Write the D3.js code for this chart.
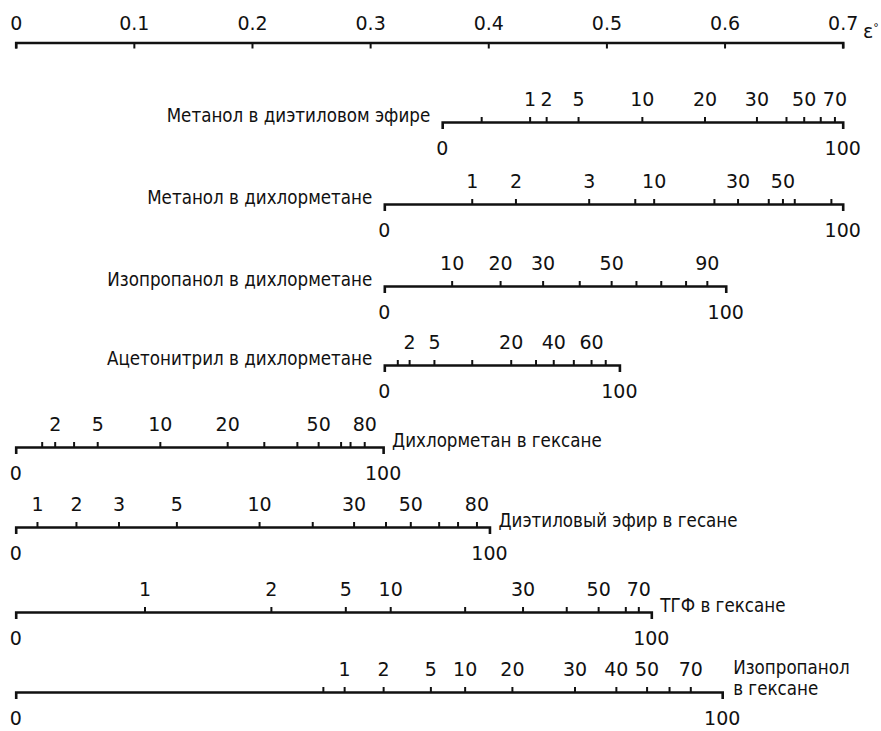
<!DOCTYPE html>
<html>
<head>
<meta charset="utf-8">
<script src="https://cdn.jsdelivr.net/npm/d3@7"></script>
<style>
  html, body { margin: 0; padding: 0; background: #fff; }
  svg { display: block; }
  .num { font-family: "DejaVu Sans", sans-serif; font-size: 19px; fill: #111; }
  .name { font-family: "DejaVu Sans Condensed", "DejaVu Sans", sans-serif; font-size: 18.6px; fill: #111; }
</style>
</head>
<body>
<svg id="chart" width="881" height="731"></svg>
<script>
// Eluent strength scale ε° (top reference axis)
const epsTicks = [0, 0.1, 0.2, 0.3, 0.4, 0.5, 0.6, 0.7];
const epsTickLabels = ["0", "0.1", "0.2", "0.3", "0.4", "0.5", "0.6", "0.7"];

// Binary mixtures: name, ε° of the pure weak (0 %) and pure strong (100 %) component
const mixNames = [
  "Метанол в диэтиловом эфире",
  "Метанол в дихлорметане",
  "Изопропанол в дихлорметане",
  "Ацетонитрил в дихлорметане",
  "Дихлорметан в гексане",
  "Диэтиловый эфир в гесане",
  "ТГФ в гексане",
  "Изопропанол в гексане"
];
const mixEps0   = [0.361, 0.312, 0.312, 0.312, 0.000, 0.000, 0.000, 0.000];
const mixEps100 = [0.700, 0.700, 0.601, 0.511, 0.311, 0.401, 0.538, 0.598];

// ε° of each intermediate composition mark, with its % label ("" = unlabelled mark)
const mixTickEps = [
  [0.394, 0.435, 0.449, 0.476, 0.530, 0.583, 0.627, 0.652, 0.667, 0.681, 0.693],
  [0.386, 0.423, 0.485, 0.524, 0.540, 0.591, 0.611, 0.637, 0.649, 0.659, 0.690],
  [0.369, 0.410, 0.446, 0.477, 0.504, 0.525, 0.546, 0.567, 0.585],
  [0.323, 0.333, 0.354, 0.386, 0.419, 0.440, 0.455, 0.472, 0.487, 0.499],
  [0.022, 0.033, 0.049, 0.069, 0.122, 0.179, 0.210, 0.238, 0.256, 0.275, 0.283, 0.295],
  [0.018, 0.051, 0.087, 0.136, 0.206, 0.251, 0.286, 0.313, 0.334, 0.358, 0.374, 0.390],
  [0.109, 0.216, 0.279, 0.317, 0.380, 0.429, 0.466, 0.493, 0.516, 0.527],
  [0.260, 0.278, 0.311, 0.351, 0.380, 0.420, 0.473, 0.508, 0.534, 0.553, 0.571]
];
const mixTickLabels = [
  ["", "1", "2", "5", "10", "20", "30", "", "50", "", "70"],
  ["1", "2", "3", "", "10", "", "30", "", "50", "", ""],
  ["10", "20", "30", "", "50", "", "", "", "90"],
  ["", "2", "5", "", "20", "", "40", "", "60", ""],
  ["", "2", "", "5", "10", "20", "", "", "50", "", "", "80"],
  ["1", "2", "3", "5", "10", "", "30", "", "50", "", "", "80"],
  ["1", "2", "5", "10", "", "30", "", "50", "", "70"],
  ["", "1", "2", "5", "10", "20", "30", "40", "50", "", "70"]
];
const endLabels = ["0", "100"];

// Layout
const rowY = [122, 204, 286, 365, 447, 527, 612, 692];
const nameSide = ["left", "left", "left", "left", "right", "right", "right", "right"];
const topY = 42.5;
const ink = "#111";

const svg = d3.select("#chart");
const x = d3.scaleLinear().domain([0, 0.7]).range([15.7, 842.7]);

function styleAxis(g) {
  g.select(".domain").attr("stroke", ink).attr("stroke-width", 2.6).attr("fill", "none");
  g.selectAll(".tick line").attr("stroke", ink).attr("stroke-width", 2);
  g.selectAll(".tick text").attr("class", "num").attr("fill", ink);
  g.attr("font-family", null).attr("font-size", null);
}

// Top ε° axis: ticks point down, labels above
const topAxis = d3.axisTop(x)
  .tickValues(epsTicks)
  .tickFormat((d, i) => epsTickLabels[i])
  .tickSizeInner(-6)
  .tickSizeOuter(-6)
  .tickPadding(13);
svg.append("g").attr("transform", `translate(0,${topY})`).call(topAxis).call(styleAxis);

svg.append("text")
  .attr("class", "num")
  .attr("x", 863).attr("y", 38)
  .text("ε")
  .append("tspan").attr("dy", -7).attr("font-size", 11).text("°");

// Mixture scales
mixNames.forEach((name, r) => {
  const e0 = mixEps0[r], e1 = mixEps100[r];
  const s = x.copy().domain([e0, e1]).range([x(e0), x(e1)]);
  const labels = new Map(mixTickEps[r].map((v, i) => [v, mixTickLabels[r][i]]));
  const axis = d3.axisTop(s)
    .tickValues(mixTickEps[r])
    .tickFormat(d => labels.get(d))
    .tickSizeInner(5)
    .tickSizeOuter(-7)
    .tickPadding(11);
  const g = svg.append("g").attr("transform", `translate(0,${rowY[r]})`);
  g.call(axis).call(styleAxis);

  // 0 % and 100 % end labels under the line
  g.selectAll("text.end")
    .data([e0, e1])
    .join("text")
    .attr("class", "num end")
    .attr("x", d => s(d))
    .attr("y", 33)
    .attr("text-anchor", "middle")
    .text((d, i) => endLabels[i]);

  // Mixture name
  if (nameSide[r] === "left") {
    g.append("text").attr("class", "name")
      .attr("x", s(e0) - 12).attr("y", 0)
      .attr("text-anchor", "end")
      .text(name);
  } else if (r === mixNames.length - 1) {
    const parts = name.split(" в ");
    const t = g.append("text").attr("class", "name")
      .attr("text-anchor", "start")
      .attr("x", s(e1) + 11).attr("y", -18);
    t.append("tspan").text(parts[0]);
    t.append("tspan").attr("x", s(e1) + 11).attr("dy", 21).text("в " + parts[1]);
  } else {
    g.append("text").attr("class", "name")
      .attr("text-anchor", "start")
      .attr("x", s(e1) + 9).attr("y", 0)
      .text(name);
  }
});
</script>
</body>
</html>
